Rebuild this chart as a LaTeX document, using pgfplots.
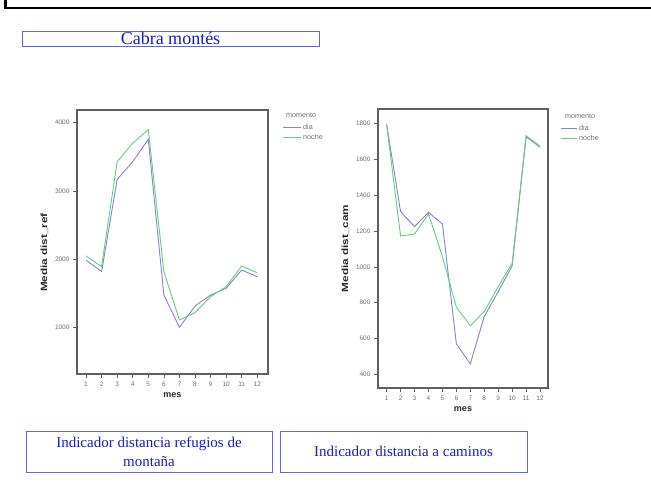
\documentclass[border=0pt]{standalone}
\usepackage{pgfplots}
\pgfplotsset{compat=1.18}
\usepackage{fontspec}
\setmainfont{Liberation Serif}
\setsansfont{Liberation Sans}
\definecolor{dia}{RGB}{130,130,215}
\definecolor{noche}{RGB}{100,205,120}
\definecolor{capblue}{RGB}{25,25,205}
\definecolor{boxblue}{RGB}{100,100,225}
\definecolor{axgray}{RGB}{95,95,95}
\definecolor{tickgray}{RGB}{110,110,110}
\pgfplotsset{mystyle/.style={
  scale only axis,
  axis line style={axgray, line width=1.1pt},
  tick style={axgray, line width=0.6pt},
  tick align=outside, major tick length=4pt,
  xtick pos=bottom, ytick pos=left,
  ticklabel style={font=\sffamily\fontsize{6.5}{7}\selectfont, text=tickgray},
  /pgf/number format/assume math mode=true,
  /pgf/number format/1000 sep={},
  label style={font=\sffamily\bfseries\fontsize{9}{10}\selectfont, text=black!85},
  xtick={1,...,12},
  every axis plot/.append style={line width=0.9pt},
}}
\pgfplotstableread{
mes dia noche
1 1990 2050
2 1820 1893
3 3170 3430
4 3430 3700
5 3756 3900
6 1478 1820
7 1005 1112
8 1317 1220
9 1478 1454
10 1576 1600
11 1844 1902
12 1746 1805
}\refdata
\pgfplotstableread{
mes dia noche
1 1796 1793
2 1309 1173
3 1225 1184
4 1305 1296
5 1240 1058
6 570 775
7 459 672
8 723 751
9 862 890
10 1006 1020
11 1727 1733
12 1668 1675
}\camdata
\begin{document}
\begin{tikzpicture}[x=1pt,y=1pt]
\useasboundingbox (0,0) rectangle (651,490);
% frame
\draw[black, line width=2.5pt] (5.3,490) -- (5.3,482) -- (651,482);
% title box
\draw[boxblue, line width=0.9pt] (22,459) rectangle (319,444);
\node[text=capblue, font=\fontsize{18}{20}\selectfont] at (170.5,452) {Cabra montés};
% bottom boxes
\draw[boxblue, line width=0.9pt] (26,59) rectangle (272,18);
\node[text=capblue, font=\fontsize{15}{19}\selectfont, align=center] at (149,38.5) {Indicador distancia refugios de\\montaña};
\draw[boxblue, line width=0.9pt] (280,59) rectangle (527,18);
\node[text=capblue, font=\fontsize{15}{19}\selectfont] at (403.5,38.5) {Indicador distancia a caminos};

\begin{axis}[mystyle, at={(77pt,116pt)}, anchor=south west,
  width=191pt, height=264pt,
  xmin=0.42, xmax=12.69, ymin=322, ymax=4186,
  ytick={1000,2000,3000,4000},
  every axis y label/.append style={at={(ticklabel cs:0.46)}},
  xlabel={mes}, ylabel={\scalebox{1.3}[1]{Media dist\_ref}}]
\addplot[dia] table[x=mes,y=dia] {\refdata};
\addplot[noche] table[x=mes,y=noche] {\refdata};
\end{axis}

\begin{axis}[mystyle, at={(378pt,102pt)}, anchor=south west,
  width=170pt, height=279pt,
  xmin=0.38, xmax=12.57, ymin=324, ymax=1882,
  ytick={400,600,...,1800},
  xlabel={mes}, ylabel={\scalebox{1.3}[1]{Media dist\_cam}}]
\addplot[dia] table[x=mes,y=dia] {\camdata};
\addplot[noche] table[x=mes,y=noche] {\camdata};
\end{axis}

% legends
\begin{scope}[font=\sffamily\fontsize{7.2}{8}\selectfont, text=tickgray]
\node[anchor=west, inner sep=0] at (286,375) {momento};
\draw[dia, line width=0.8pt] (283,363) -- (301,363);
\node[anchor=west, inner sep=0] at (303,363) {dia};
\draw[noche, line width=0.8pt] (283,353) -- (301,353);
\node[anchor=west, inner sep=0] at (303,353) {noche};
\node[anchor=west, inner sep=0] at (565,374) {momento};
\draw[dia, line width=0.8pt] (561,362) -- (577,362);
\node[anchor=west, inner sep=0] at (579,362) {dia};
\draw[noche, line width=0.8pt] (561,352) -- (577,352);
\node[anchor=west, inner sep=0] at (579,352) {noche};
\end{scope}
\end{tikzpicture}
\end{document}
